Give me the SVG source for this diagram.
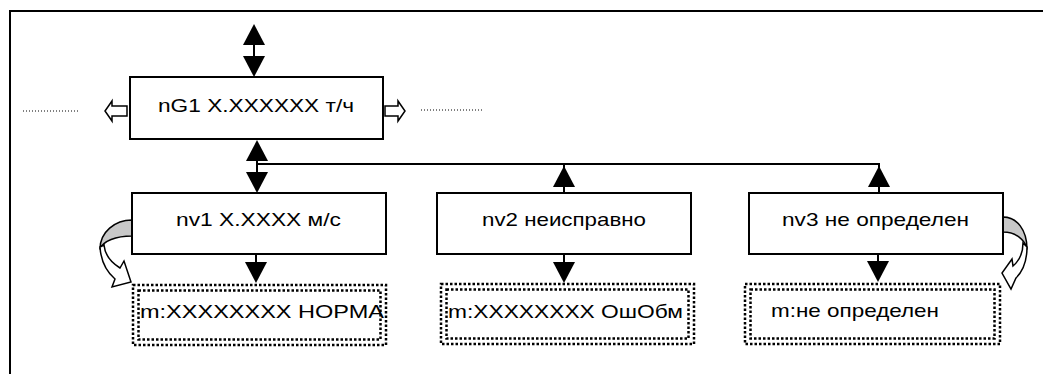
<svg xmlns="http://www.w3.org/2000/svg" width="1043" height="374" viewBox="0 0 1043 374">
<style>
.box{fill:#fff;stroke:#000;stroke-width:2}
.dot{fill:none;stroke:#000;stroke-width:2.5;stroke-dasharray:2.5 2}
.t{font-family:"Liberation Sans",Arial,sans-serif;font-size:19px;fill:#000}
.ln{stroke:#000;stroke-width:2;fill:none}
.ah{fill:#000;stroke:none}
.hollow{fill:#fff;stroke:#000;stroke-width:1.5}
.dl{stroke:#000;stroke-width:1;stroke-dasharray:1 2}
.cg{fill:#c8c8c8;stroke:#000;stroke-width:1.5;stroke-linejoin:round}
.cw{fill:#fff;stroke:#000;stroke-width:1.5;stroke-linejoin:miter}
</style>
<rect width="1043" height="374" fill="#fff"/>
<path d="M10,374 V11 H1043" fill="none" stroke="#000" stroke-width="2"/>

<g id="connectors">
  <!-- top double arrow -->
  <line class="ln" x1="254" y1="44" x2="254" y2="57"/>
  <polygon class="ah" points="254,24 265,45 243,45"/>
  <polygon class="ah" points="254,77 265,56 243,56"/>
  <!-- below main box -->
  <line class="ln" x1="257" y1="160" x2="257" y2="173"/>
  <polygon class="ah" points="257,140 268,161 246,161"/>
  <polygon class="ah" points="257,193 268,172 246,172"/>
  <line class="ln" x1="257" y1="164" x2="880" y2="164"/>
  <line class="ln" x1="564" y1="164" x2="564" y2="193"/>
  <polygon class="ah" points="564,166 575,187 553,187"/>
  <line class="ln" x1="879" y1="164" x2="879" y2="193"/>
  <polygon class="ah" points="879,166 890,187 868,187"/>
  <!-- down arrows to message boxes -->
  <line class="ln" x1="256" y1="254" x2="256" y2="263"/>
  <polygon class="ah" points="256,283 267,262 245,262"/>
  <line class="ln" x1="564" y1="254" x2="564" y2="263"/>
  <polygon class="ah" points="564,283 575,262 553,262"/>
  <line class="ln" x1="878" y1="254" x2="878" y2="263"/>
  <polygon class="ah" points="878,282 889,261 867,261"/>
  <!-- hollow side arrows -->
  <polygon class="hollow" points="127,106 112,106 112,101 105,111 112,121 112,116 127,116"/>
  <polygon class="hollow" points="385,106 398,106 398,101 405,111 398,121 398,116 385,116"/>
  <line class="dl" x1="23" y1="111" x2="80" y2="111"/>
  <line class="dl" x1="421" y1="110" x2="484" y2="110"/>
  <!-- curved arrows -->
  <path class="cg" d="M132,220 C115,220 100,232 100,249 C103,241 116,236 132,236 Z"/>
  <path class="cw" d="M100,247 C101,262 108,273 115,279 L112,287 L131,282 L124,261 L120,268 C112,263 105,256 104,245 Z"/>
  <path class="cg" d="M1003,217 C1017,217 1027,230 1027,249 C1025,240 1016,232 1003,232 Z"/>
  <path class="cw" d="M1027,247 C1027,262 1022,272 1016,278 L1011,289 L1002,273 L1012,259 L1013,266 C1019,261 1023,254 1023,243 Z"/>
</g>

<g id="nG1">
  <rect class="box" x="130" y="77" width="253" height="62"/>
  <text class="t" x="158" y="112" textLength="196" lengthAdjust="spacingAndGlyphs">nG1 X.XXXXXX т/ч</text>
</g>
<g id="nv1">
  <rect class="box" x="132" y="193" width="254" height="61"/>
  <text class="t" x="176" y="226" textLength="165" lengthAdjust="spacingAndGlyphs">nv1 X.XXXX м/с</text>
</g>
<g id="nv2">
  <rect class="box" x="437" y="193" width="254" height="61"/>
  <text class="t" x="482" y="226" textLength="164" lengthAdjust="spacingAndGlyphs">nv2 неисправно</text>
</g>
<g id="nv3">
  <rect class="box" x="749" y="193" width="254" height="61"/>
  <text class="t" x="782" y="226" textLength="187" lengthAdjust="spacingAndGlyphs">nv3 не определен</text>
</g>
<g id="m1">
  <rect class="dot" x="133" y="285" width="253" height="60"/>
  <rect class="dot" x="138.5" y="290.5" width="242" height="49"/>
  <text class="t" x="140" y="318" textLength="244" lengthAdjust="spacingAndGlyphs">m:XXXXXXXX НОРМА</text>
</g>
<g id="m2">
  <rect class="dot" x="441" y="284" width="253" height="60"/>
  <rect class="dot" x="446.5" y="289.5" width="242" height="49"/>
  <text class="t" x="448" y="318" textLength="235" lengthAdjust="spacingAndGlyphs">m:XXXXXXXX ОшОбм</text>
</g>
<g id="m3">
  <rect class="dot" x="745" y="284" width="255" height="60"/>
  <rect class="dot" x="750.5" y="289.5" width="244" height="49"/>
  <text class="t" x="771" y="317" textLength="168" lengthAdjust="spacingAndGlyphs">m:не определен</text>
</g>
</svg>
